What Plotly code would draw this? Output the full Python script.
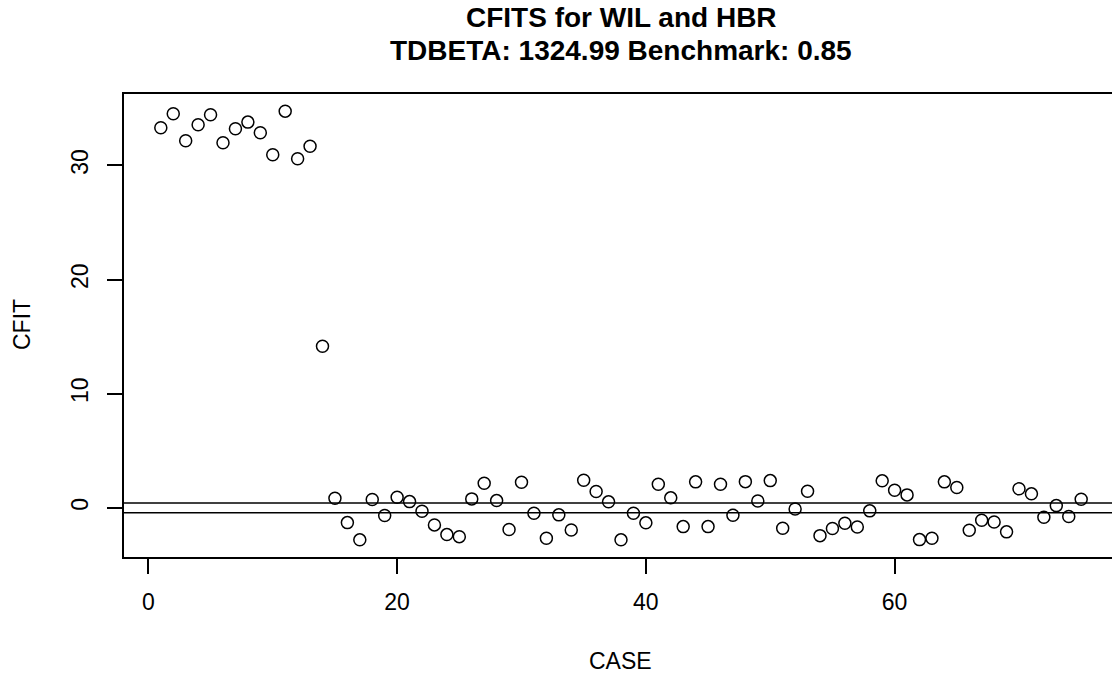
import plotly.graph_objects as go

case = list(range(1, 76))
cfit = [
    33.30, 34.53, 32.16, 33.57, 34.44, 31.99, 33.22, 33.80, 32.87, 30.94,
    34.76, 30.59, 31.69, 14.16, 0.84, -1.29, -2.80, 0.73, -0.67, 0.93,
    0.55, -0.30, -1.49, -2.34, -2.52, 0.79, 2.16, 0.64, -1.90, 2.24,
    -0.47, -2.66, -0.61, -1.93, 2.42, 1.43, 0.53, -2.80, -0.47, -1.31,
    2.07, 0.88, -1.64, 2.28, -1.64, 2.07, -0.65, 2.30, 0.61, 2.39,
    -1.79, -0.09, 1.46, -2.43, -1.81, -1.35, -1.67, -0.26, 2.37, 1.54,
    1.14, -2.78, -2.66, 2.28, 1.78, -1.96, -1.09, -1.23, -2.10, 1.67,
    1.23, -0.82, 0.20, -0.76, 0.75,
]
benchmark_lines = [0.425, -0.425]
x_ticks = [0, 20, 40, 60]
y_ticks = [0, 10, 20, 30]
title_lines = ["CFITS for WIL and HBR", "TDBETA: 1324.99 Benchmark: 0.85"]
x_label = "CASE"
y_label = "CFIT"

FONT = "Liberation Sans, Arial, Helvetica, sans-serif"
W, H = 1112, 675
# target plot box in screen pixels (body margin removed by post_script below)
BOX_L, BOX_T, BOX_B = 124, 94, 557
ML, MT = BOX_L, BOX_T
MB = H - BOX_B
plot_w = W - ML
plot_h = H - MT - MB

# R-style 4% axis extension
xr = max(case) - min(case)
xlo, xhi = min(case) - 0.04 * xr, max(case) + 0.04 * xr
# the original device cuts the right part of the box (box would end ~6px off-canvas)
xhi_vis = xlo + (xhi - xlo) * plot_w / (plot_w + 6)
yr = max(cfit) - min(cfit)
ylo, yhi = min(cfit) - 0.04 * yr, max(cfit) + 0.04 * yr

fig = go.Figure()
fig.add_trace(go.Scatter(
    x=case, y=cfit, mode="markers",
    marker=dict(symbol="circle-open", size=12, color="black", line=dict(width=1.5, color="black")),
    showlegend=False, hoverinfo="x+y",
))

for b in benchmark_lines:
    fig.add_shape(type="line", xref="paper", yref="y", x0=0, x1=1, y0=b, y1=b,
                  line=dict(color="black", width=1.5))

def sx(px):
    return (px - BOX_L) / plot_w

def sy(py):
    return (BOX_B - py) / plot_h

annotations = [
    dict(text="<b>%s</b>" % title_lines[0], xref="paper", yref="paper",
         x=sx(621), y=sy(18), xanchor="center", yanchor="middle",
         showarrow=False, font=dict(family=FONT, size=28, color="black")),
    dict(text="<b>%s</b>" % title_lines[1], xref="paper", yref="paper",
         x=sx(621), y=sy(50), xanchor="center", yanchor="middle",
         showarrow=False, font=dict(family=FONT, size=28, color="black")),
    dict(text=x_label, xref="paper", yref="paper",
         x=sx(620), y=sy(661), xanchor="center", yanchor="middle",
         showarrow=False, font=dict(family=FONT, size=23, color="black")),
    dict(text=y_label, xref="paper", yref="paper", textangle=-90,
         x=sx(22), y=sy(325), xanchor="center", yanchor="middle",
         showarrow=False, font=dict(family=FONT, size=23, color="black")),
]

fig.update_layout(
    width=W, height=H,
    margin=dict(l=ML, r=0, t=MT, b=MB, pad=0),
    paper_bgcolor="white", plot_bgcolor="white",
    font=dict(family=FONT, size=23, color="black"),
    annotations=annotations,
    xaxis=dict(range=[xlo, xhi_vis], tickvals=x_ticks, ticks="outside", ticklen=15, tickwidth=1.5,
               tickcolor="black", showline=True, linewidth=2, linecolor="black", mirror=True,
               showgrid=False, zeroline=False, tickfont=dict(size=23, family=FONT),
               ticklabelstandoff=8),
    yaxis=dict(range=[ylo, yhi], tickvals=y_ticks, ticks="outside", ticklen=15, tickwidth=1.5,
               tickcolor="black", showline=True, linewidth=2, linecolor="black", mirror=False,
               showgrid=False, zeroline=False, tickangle=-90, tickfont=dict(size=23, family=FONT),
               ticklabelstandoff=10),
)

fig.write_html("out.html",
               config={"displayModeBar": False},
               post_script="document.body.style.margin='0';document.body.style.overflow='hidden';")
